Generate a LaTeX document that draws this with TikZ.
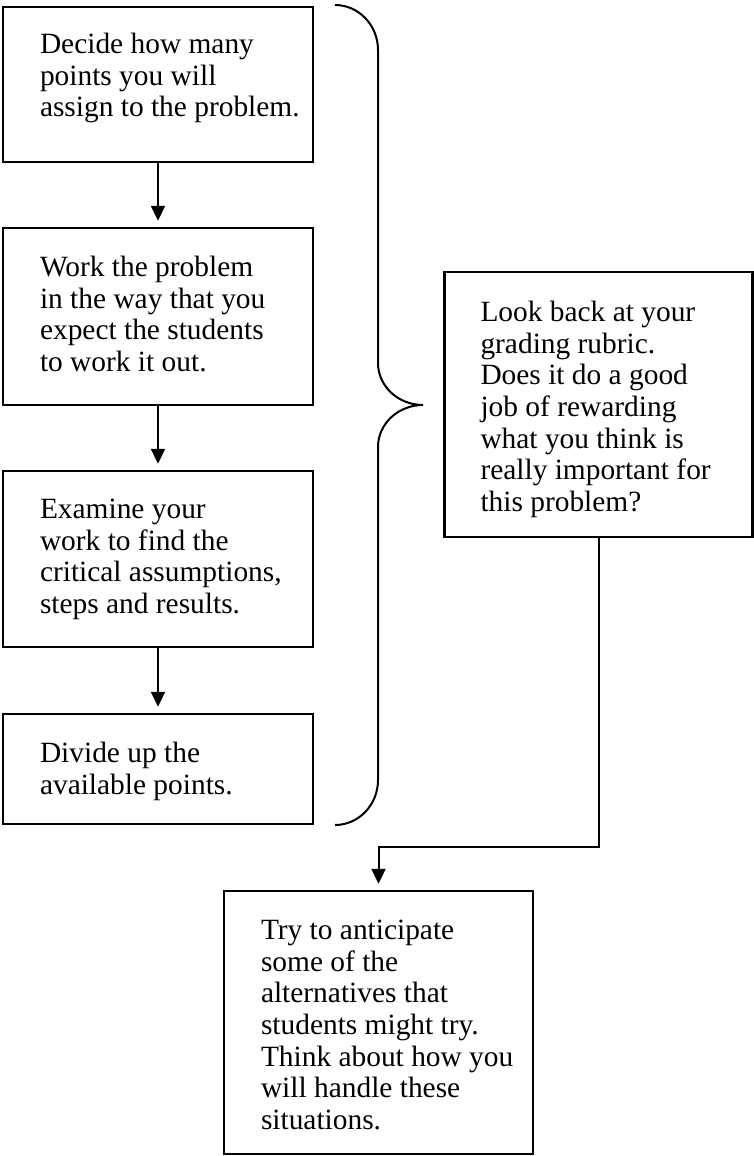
\documentclass[tikz,border=0pt]{standalone}
\usepackage{fontspec}
\setmainfont{Liberation Serif}
\usetikzlibrary{arrows.meta}
\begin{document}
\begin{tikzpicture}[x=1pt,y=-1pt]
\tikzstyle{stepbox}=[draw, line width=2.4pt, inner sep=0pt]
\tikzstyle{steptext}=[anchor=north west, align=left, inner sep=0pt, font=\fontsize{29.4}{31.7}\selectfont]
\tikzstyle{flow}=[line width=2pt, -{Triangle[length=15pt,width=14pt]}, shorten >=6pt]
\useasboundingbox (0,0) rectangle (754,1156);
% left column
\node [stepbox, minimum width=310pt, minimum height=155pt] (b1) at (158,84.5) {};
\node [stepbox, minimum width=310pt, minimum height=177pt] (b2) at (158,316.5) {};
\node [stepbox, minimum width=310pt, minimum height=176pt] (b3) at (158,559) {};
\node [stepbox, minimum width=310pt, minimum height=110pt] (b4) at (158,769) {};
\node [steptext] (t1) at ([shift={(38,27)}]b1.north west) {Decide how many\\points you will\\assign to the problem.};
\node [steptext] (t2) at ([shift={(38,29)}]b2.north west) {Work the problem\\in the way that you\\expect the students\\to work it out.};
\node [steptext] (t3) at ([shift={(38,29)}]b3.north west) {Examine your\\work to find the\\critical assumptions,\\steps and results.};
\node [steptext] (t4) at ([shift={(38,29)}]b4.north west) {Divide up the\\available points.};
% right and bottom
\node [stepbox, minimum width=308pt, minimum height=265pt] (look) at (598.5,404.5) {};
\node [steptext] (tlook) at ([shift={(37,30)}]look.north west) {Look back at your\\grading rubric.\\Does it do a good\\job of rewarding\\what you think is\\really important for\\this problem?};
\node [stepbox, minimum width=309pt, minimum height=263pt] (try) at (378.5,1022.5) {};
\node [steptext] (ttry) at ([shift={(38,30)}]try.north west) {Try to anticipate\\some of the\\alternatives that\\students might try.\\Think about how you\\will handle these\\situations.};
% arrows
\draw [flow] (b1.south) -- (b2.north);
\draw [flow] (b2.south) -- (b3.north);
\draw [flow] (b3.south) -- (b4.north);
\draw [flow] (look.south) -- ++(0,309) -| (try.north);
% brace
\coordinate (brtop) at (335,5);
\coordinate (brtip) at (423,405);
\coordinate (brbot) at (335,825);
\draw [line width=2pt] (brtop) .. controls (358.7,5) and (378,25.2) .. (378,50)
  -- (378,363) .. controls (378,386.2) and (398.2,405) .. (brtip)
  .. controls (398.2,405) and (378,423.8) .. (378,447)
  -- (378,780) .. controls (378,804.8) and (358.7,825) .. (brbot);
\end{tikzpicture}
\end{document}
